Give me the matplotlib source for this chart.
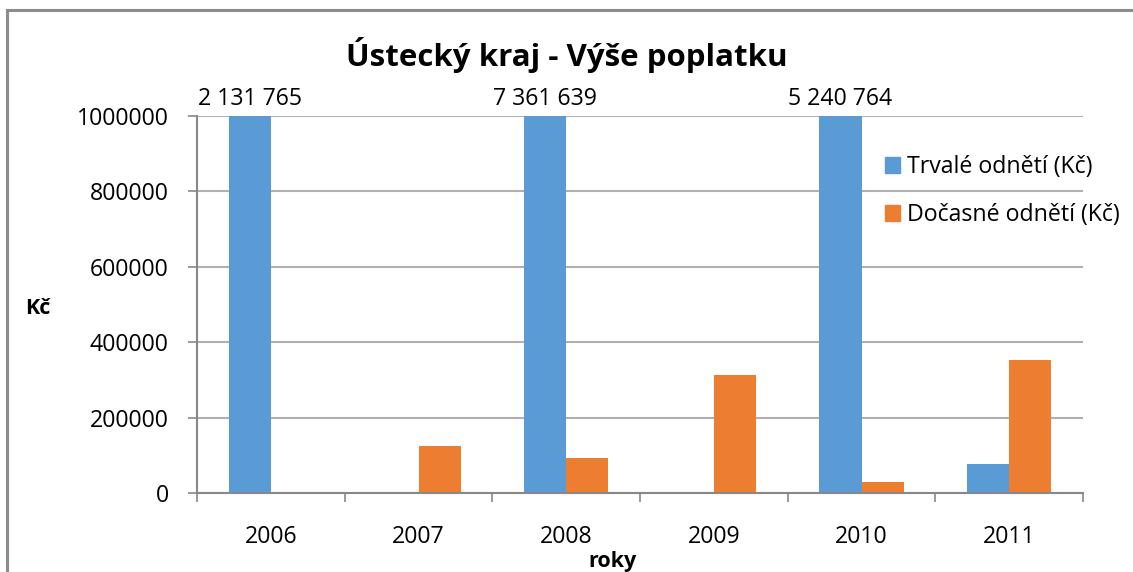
import matplotlib
matplotlib.use("Agg")
import matplotlib.pyplot as plt
from matplotlib.patches import Patch
from matplotlib.lines import Line2D
import numpy as np

plt.rcParams['font.family'] = ['Open Sans', 'DejaVu Sans']

# data
roky = ['2006', '2007', '2008', '2009', '2010', '2011']
trvale = [2131765, 0, 7361639, 0, 5240764, 77000]
docasne = [0, 125000, 93000, 313000, 29000, 353000]
popisky_trvale = {0: 2131765, 2: 7361639, 4: 5240764}

modra = '#5B9BD5'
oranzova = '#ED7D31'
seda = '#888888'
velikost = 16.7

W, H = 1133, 572
fig = plt.figure(figsize=(W / 100, H / 100), dpi=100)
ax = fig.add_axes([197 / W, 1 - 493 / H, (1083 - 197) / W, (493 - 116) / H])

x = np.arange(len(roky))
sirka = 1 / 3.5
ax.bar(x - sirka / 2, trvale, sirka, color=modra, zorder=3)
ax.bar(x + sirka / 2, docasne, sirka, color=oranzova, zorder=3)

ax.set_xlim(-0.5, len(roky) - 0.5)
ax.set_ylim(0, 1000000)

# osy
for s in ['top', 'right']:
    ax.spines[s].set_visible(False)
for s in ['left', 'bottom']:
    ax.spines[s].set_color(seda)
    ax.spines[s].set_linewidth(1.5)
    ax.spines[s].set_zorder(4)

ax.set_yticks(np.arange(0, 1000001, 200000))
ax.set_yticklabels([str(v) for v in range(0, 1000001, 200000)])
ax.tick_params(axis='y', direction='out', length=6.5, width=1.2, color=seda,
               pad=14, labelsize=velikost)
ax.yaxis.grid(True, color='#b0b0b0', linewidth=1.5, zorder=0)
ax.set_axisbelow(True)

ax.set_xticks(x)
ax.set_xticklabels(roky)
ax.set_xticks(np.arange(-0.5, len(roky)), minor=True)
ax.tick_params(axis='x', which='major', length=0, pad=23, labelsize=velikost)
ax.tick_params(axis='x', which='minor', direction='out', length=6.5, width=1.2, color=seda)

# popisky nad oříznutými sloupci
for i, v in popisky_trvale.items():
    ax.text(x[i] - sirka / 2, 1000000 + 14000, f"{v:,}".replace(",", " "),
            ha='center', va='bottom', fontsize=velikost, clip_on=False)

fig.text(0.5, 1 - 55 / H, 'Ústecký kraj - Výše poplatku', ha='center', va='center',
         fontsize=22.5, fontweight='bold')
fig.text(38 / W, 1 - 308 / H, 'Kč', ha='center', va='center', fontsize=15.5, fontweight='bold')
fig.text(612 / W, 1 - 561 / H, 'roky', ha='center', va='center', fontsize=15.5, fontweight='bold')

handles = [Patch(color=modra), Patch(color=oranzova)]
fig.legend(handles, ['Trvalé odnětí (Kč)', 'Dočasné odnětí (Kč)'], loc='upper left',
           bbox_to_anchor=(885 / W, 1 - 155 / H), frameon=False, fontsize=velikost,
           handlelength=0.65, handleheight=0.65, handletextpad=0.3, labelspacing=1.05,
           borderpad=0, borderaxespad=0)

# rámeček grafu
fig.add_artist(Line2D([7 / W, 7 / W], [0, 1 - 9.5 / H], transform=fig.transFigure,
                      color='#8c8c8c', linewidth=2.2))
fig.add_artist(Line2D([7 / W, 1132 / W], [1 - 9.5 / H, 1 - 9.5 / H], transform=fig.transFigure,
                      color='#8c8c8c', linewidth=2.2))

fig.savefig('out.png', dpi=100)
